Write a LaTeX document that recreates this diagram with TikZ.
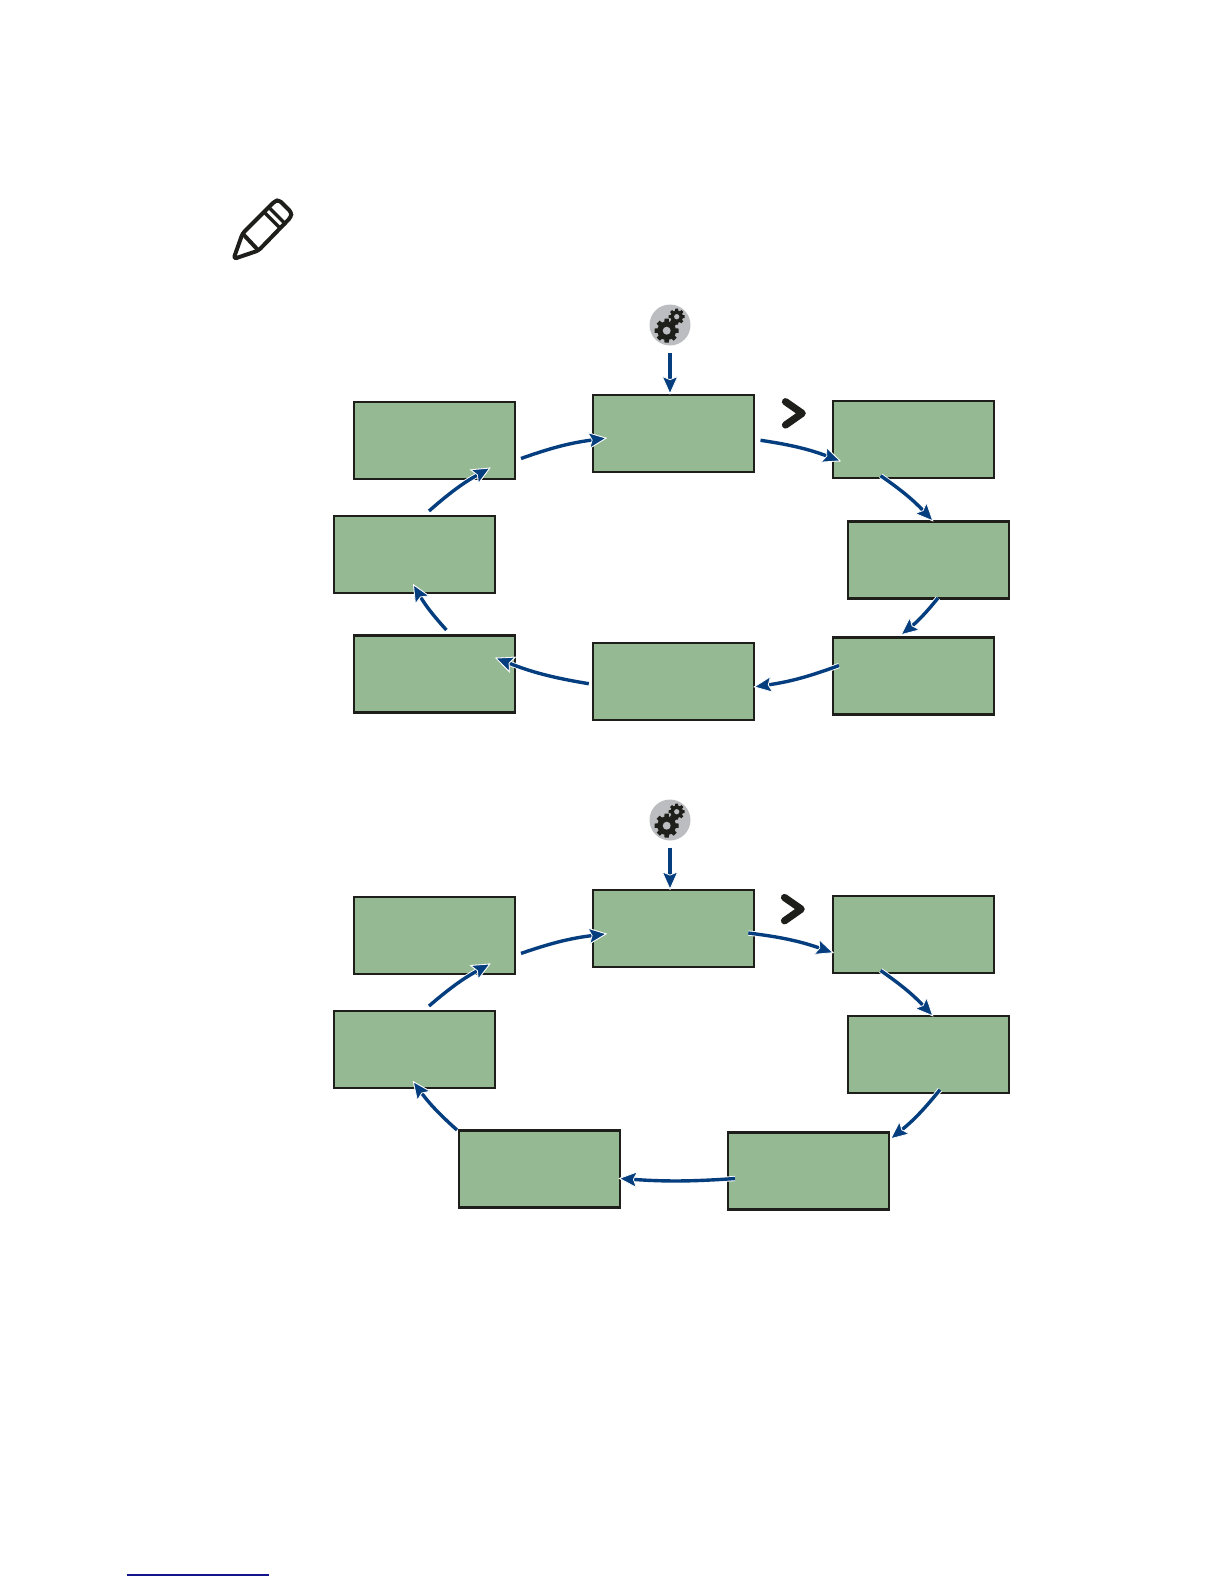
\documentclass[tikz,border=0pt]{standalone}
\usetikzlibrary{arrows.meta,calc}
\definecolor{panelgreen}{HTML}{95B993}
\definecolor{ink}{HTML}{1E1E1A}
\definecolor{flowblue}{HTML}{053E7E}
\definecolor{gearback}{HTML}{BCBDC0}
\definecolor{linkblue}{HTML}{14148C}
\tikzset{
  panel/.style={draw=ink, line width=1.1pt, fill=panelgreen, minimum width=80.5pt, minimum height=38.5pt, inner sep=0pt, outer sep=0pt},
  gearbtn/.style={circle, fill=gearback, minimum size=20.5pt, inner sep=0pt, outer sep=0pt},
  flow/.style={flowblue, line width=1.7pt, shorten >=-1pt, preaction={draw=white, line width=2.6pt},
    -{Stealth[length=9.5pt, width=8.5pt, inset=1.8pt, color=white, fill=flowblue, line width=0.4pt]}},
  curved/.style={flow, bend left=#1},
  curved/.default=6,
  feed/.style={flow, shorten <=3.5pt, shorten >=0pt},
  chevron/.style={draw=ink, line width=3.6pt, line cap=round, line join=round},
  pics/cog/.style={code={
    \foreach \a in {0,45,...,315} {\fill[ink, rotate=\a] (-#1*.24,0) -- (-#1*.18,#1) -- (#1*.18,#1) -- (#1*.24,0) -- cycle;}
    \fill[ink] (0,0) circle[radius=#1*.78];
    \fill[gearback] (0,0) circle[radius=#1*.33];}}
}
\begin{document}
\begin{tikzpicture}[x=0.5pt, y=-0.5pt]
\useasboundingbox (0,0) rectangle (1224,1584);
% ---------------- note pencil
\draw[ink, line width=2pt, line join=round, rounded corners=1.5pt]
  (233.5,259) -- (242.5,233.5) -- (275,201) -- (279,200) -- (291.5,212.5) -- (291,217) -- (258.5,250.5) -- cycle;
\draw[ink, line width=2pt] (242.5,233.5) -- (258.5,250.5);
\draw[ink, line width=1.6pt] (265,213) -- (281,229) (270,208.5) -- (286,224.5);
% ---------------- upper cycle
\foreach \n/\x/\y in {mainA/673.7/433.2, rightA/913.4/439.3, sideA/928.6/560, lowA/913.4/676,
                      baseA/673.7/681.7, backA/434.8/674, midA/414.5/554.4, leftA/434.8/440.8}
  {\node[panel] (\n) at (\x,\y) {};}
\node[gearbtn] (gearA) at (670,325) {};
\pic at ($(gearA)+(-3.3,5.7)$) {cog=12};
\pic at ($(gearA)+(6.7,-8.3)$) {cog=8};
\draw[feed] (gearA.south) -- (gearA.south |- mainA.north);
\coordinate (chevA) at (785.5,401.7);
\draw[chevron] (chevA) -- ++(16.7,11.6) -- ++(-16.7,11.7);
\draw[curved] ($(leftA)+(86.2,17.7)$) to ($(mainA)+(-68.7,5.1)$);
\draw[curved] ($(mainA)+(86.8,7.1)$) to ($(rightA)+(-74.4,21.2)$);
\draw[curved] ($(rightA)+(-32.8,36.4)$) to ($(sideA)+(3.4,-40)$);
\draw[curved] ($(sideA)+(9.4,38)$) to ($(lowA)+(-11.4,-42)$);
\draw[curved] ($(lowA)+(-74.4,-10.5)$) to ($(baseA)+(81.7,5)$);
\draw[curved] ($(baseA)+(-84.9,2)$) to ($(backA)+(62.2,-15.5)$);
\draw[curved] ($(backA)+(11.6,-44)$) to ($(midA)+(-.5,31.3)$);
\draw[curved] ($(midA)+(14.5,-43.4)$) to ($(leftA)+(54,27.8)$);
% ---------------- lower cycle
\foreach \n/\x/\y in {mainB/673.7/928.6, rightB/913.4/934.7, sideB/928.6/1054.8, lowB/808.4/1171,
                      backB/539.3/1169, midB/414.5/1049.3, leftB/434.8/935.7}
  {\node[panel] (\n) at (\x,\y) {};}
\node[gearbtn] (gearB) at (670,820) {};
\pic at ($(gearB)+(-3.3,5.7)$) {cog=12};
\pic at ($(gearB)+(6.7,-8.3)$) {cog=8};
\draw[feed] (gearB.south) -- (gearB.south |- mainB.north);
\coordinate (chevB) at (784.5,897.5);
\draw[chevron] (chevB) -- ++(16.7,11.6) -- ++(-16.7,11.7);
\draw[curved] ($(leftB)+(86.2,17.7)$) to ($(mainB)+(-68.7,5.4)$);
\draw[curved] ($(mainB)+(74.6,4.4)$) to ($(rightB)+(-81.4,17.6)$);
\draw[curved] ($(rightB)+(-32.8,35.8)$) to ($(sideB)+(3.4,-39.8)$);
\draw[curved] ($(sideB)+(11.4,34.9)$) to ($(lowB)+(83.3,-33)$);
\draw[curved=4] ($(lowB)+(-73.4,7.5)$) to ($(backB)+(81.2,9.5)$);
\draw[curved] ($(backB)+(-82.3,-39)$) to ($(midB)+(-.5,33.3)$);
\draw[curved] ($(midB)+(14.5,-43.3)$) to ($(leftB)+(54,28.8)$);
% ---------------- footer rule
\draw[linkblue, line width=0.75pt] (127,1575) -- (269,1575);
\end{tikzpicture}
\end{document}
